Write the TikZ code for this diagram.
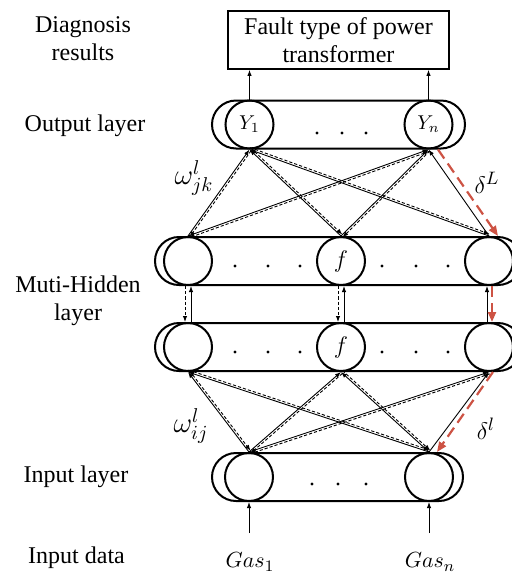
\documentclass[tikz,border=0pt]{standalone}
\usepackage{fontspec}
\setmainfont{Liberation Serif}
\usetikzlibrary{calc,arrows.meta}
\definecolor{errred}{RGB}{205,83,68}

\begin{document}
\begin{tikzpicture}[x=0.5pt,y=-0.5pt,font=\fontsize{12}{14}\selectfont,
  layer/.style={draw,rectangle,rounded corners=12pt,line width=1pt,minimum height=24pt,inner sep=0pt},
  neuron/.style={draw,circle,line width=1pt,minimum size=24pt,inner sep=0pt},
  fwd/.style={line width=0.45pt,-{Latex[length=3pt,width=2.2pt]}},
  bwd/.style={line width=0.45pt,dash pattern=on 1.6pt off 1pt,-{Latex[length=3pt,width=2.2pt]}},
  err/.style={draw=errred,line width=1.1pt,dash pattern=on 5.5pt off 3pt,-{Triangle[length=5pt,width=4pt]}}]

\useasboundingbox (0,0) rectangle (512,574);

% layers
\node[layer,minimum width=126.5pt] (outl) at (338.5,124.5) {};
\node[layer,minimum width=183.5pt] (hidl1) at (338.5,261) {};
\node[layer,minimum width=183.5pt] (hidl2) at (338.5,347) {};
\node[layer,minimum width=125.5pt] (inl) at (337.5,477) {};

\node[neuron,font=\fontsize{10}{12}\selectfont] (o1) at (249.5,124.5) {$Y_1$};
\node[neuron,font=\fontsize{10}{12}\selectfont] (o2) at (428.5,124.5) {$Y_n$};
\node[neuron] (a1) at (188,261) {};
\node[neuron,font=\fontsize{12}{14}\selectfont] (a2) at (341,261) {$f$};
\node[neuron] (a3) at (489,261) {};
\node[neuron] (b1) at (188,347) {};
\node[neuron,font=\fontsize{12}{14}\selectfont] (b2) at (341,347) {$f$};
\node[neuron] (b3) at (489,347) {};
\node[neuron] (i1) at (249,477) {};
\node[neuron] (i2) at (429,477) {};

\foreach \x in {317,342,366} \fill (\x,133) circle (1.6);
\foreach \x in {235,268,300,382,416,448} {
  \fill (\x,266) circle (1.6);
  \fill (\x,352) circle (1.6);
}
\foreach \x in {312,338,366} \fill (\x,484) circle (1.6);

\node[draw,line width=0.8pt,minimum width=110.5pt,minimum height=29pt,inner sep=0pt,align=center] (res) at (338.5,40) {Fault type of power\\transformer};
\draw[fwd] (o1.north) -- (o1.north |- res.south);
\draw[fwd] (o2.north) -- (o2.north |- res.south);

% output <-> hidden
\foreach \k in {1,2}
  \foreach \j in {1,2,3}
    \draw[fwd] (a\j.north) -- (o\k.south);
\foreach \k/\j in {1/1,1/2,1/3,2/1,2/2}
  \draw[bwd] ($(o\k.south)!1pt!90:(a\j.north)$) -- ($(a\j.north)!1pt!-90:(o\k.south)$);

% hidden <-> hidden
\foreach \j in {1,2} {
  \draw[fwd] ([xshift=1.5pt]b\j.north) -- ([xshift=1.5pt]a\j.south);
  \draw[bwd] ([xshift=-1.5pt]a\j.south) -- ([xshift=-1.5pt]b\j.north);
}
\draw[fwd] ([xshift=-1pt]b3.north) -- ([xshift=-1pt]a3.south);

% hidden <-> input
\foreach \i in {1,2}
  \foreach \j in {1,2,3}
    \draw[fwd] (i\i.north) -- (b\j.south);
\foreach \i/\j in {1/1,1/2,1/3,2/1,2/2}
  \draw[bwd] ($(b\j.south)!1pt!90:(i\i.north)$) -- ($(i\i.north)!1pt!-90:(b\j.south)$);

% error path
\draw[err] ([xshift=4.75pt]o2.south) -- ([xshift=4.5pt]a3.north);
\draw[err] ([xshift=1.5pt]a3.south) -- ([xshift=1.5pt]b3.north);
\draw[err] ([xshift=2pt]b3.south) -- ([xshift=4pt]i2.north);

\node[font=\fontsize{14}{16}\selectfont] (wjk) at (194,178) {$\omega^{l}_{jk}$};
\node[font=\fontsize{13}{15}\selectfont] (dL) at (487,183) {$\delta^{L}$};
\node[font=\fontsize{14}{16}\selectfont] (wij) at (191,426) {$\omega^{l}_{ij}$};
\node[font=\fontsize{13}{15}\selectfont] (dl) at (486,429) {$\delta^{l}$};

% inputs
\coordinate (g1) at (249,533);
\coordinate (g2) at (429,533);
\draw[fwd] (g1) -- (i1.south);
\draw[fwd] (g2) -- (i2.south);
\node[font=\fontsize{11}{12}\selectfont] (gas1) at (250,562) {$Gas_1$};
\node[font=\fontsize{11}{12}\selectfont] (gasn) at (430,562) {$Gas_n$};

% row labels
\node[align=center] (diag) at (83,39) {Diagnosis\\results};
\node (outtxt) at (85,126) {Output layer};
\node[align=center] (hidtxt) at (78,301) {Muti-Hidden\\layer};
\node (intxt) at (76,477) {Input layer};
\node (datatxt) at (76.5,558) {Input data};

\end{tikzpicture}
\end{document}
